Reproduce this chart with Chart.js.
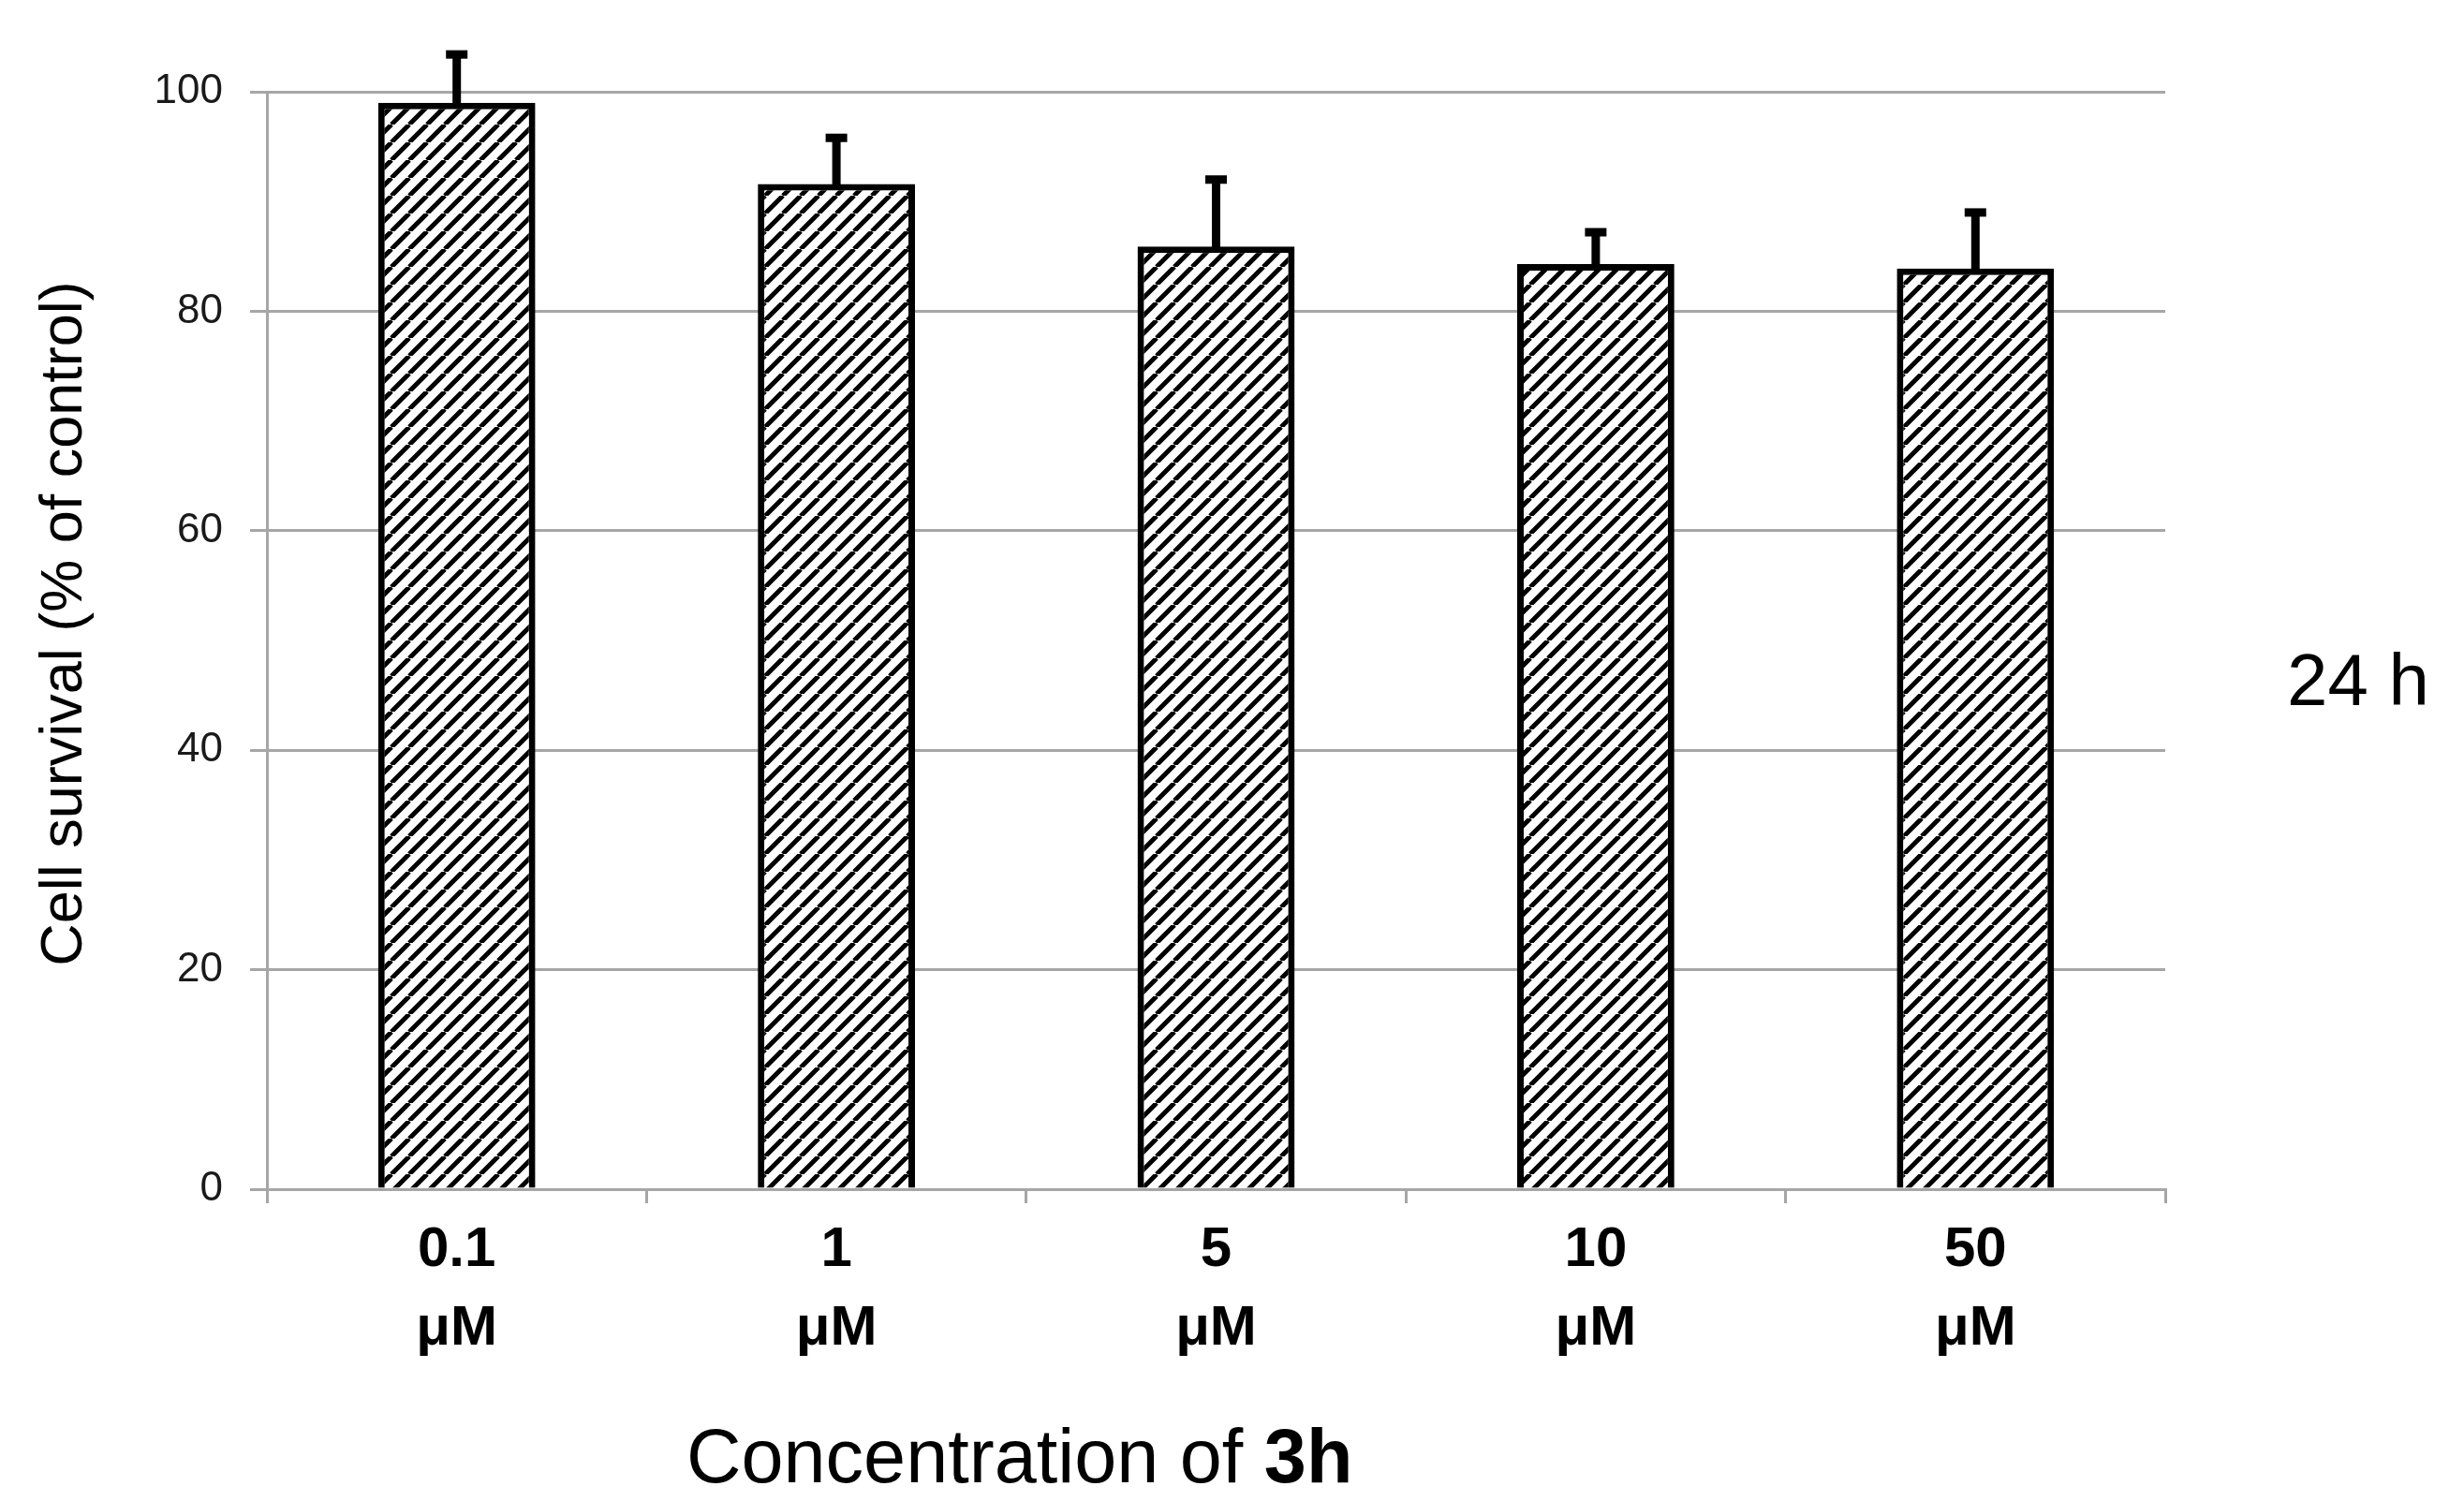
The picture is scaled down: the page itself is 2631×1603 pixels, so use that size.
<!DOCTYPE html>
<html>
<head>
<meta charset="utf-8">
<script src="https://cdn.jsdelivr.net/npm/chart.js@4.4.1/dist/chart.umd.min.js"></script>
<style>
  body { margin: 0; background: #fff; }
  canvas { display: block; }
</style>
</head>
<body>
<canvas id="myChart" width="2631" height="1603"></canvas>
<script>
// values
const concentrations = [['0.1', 'μM'], ['1', 'μM'], ['5', 'μM'], ['10', 'μM'], ['50', 'μM']];
const survival = [99.0, 91.6, 85.9, 84.3, 83.9];
const errors = [4.4, 4.2, 6.1, 2.9, 5.1];
const yTicks = [0, 20, 40, 60, 80, 100];

const FONT = "'Liberation Sans', Arial, sans-serif";
const GRID = '#a6a6a6';

// diagonal hatch fill for the bars
const makeHatch = () => {
  const size = 19;
  const c = document.createElement('canvas');
  c.width = size;
  c.height = size;
  const g = c.getContext('2d');
  g.fillStyle = '#fff';
  g.fillRect(0, 0, size, size);
  g.strokeStyle = '#000';
  g.lineWidth = 5;
  g.beginPath();
  [-size, 0, size].forEach(k => {
    g.moveTo(k, size);
    g.lineTo(k + size, 0);
  });
  g.stroke();
  return g.createPattern(c, 'repeat');
};

const errorBars = {
  id: 'errorBars',
  afterDatasetsDraw(chart) {
    const { ctx, scales: { y } } = chart;
    const meta = chart.getDatasetMeta(0);
    ctx.save();
    ctx.fillStyle = '#000';
    meta.data.forEach((bar, i) => {
      const top = y.getPixelForValue(survival[i] + errors[i]);
      ctx.fillRect(bar.x - 4.5, top, 9, bar.y - top + 4);
      ctx.fillRect(bar.x - 11.5, top - 4.5, 23, 9);
    });
    ctx.restore();
  }
};

const extraText = {
  id: 'extraText',
  afterDraw(chart) {
    const { ctx } = chart;
    ctx.save();
    ctx.fillStyle = '#000';

    // y axis title
    ctx.save();
    ctx.translate(87, 666);
    ctx.rotate(-Math.PI / 2);
    ctx.font = `63px ${FONT}`;
    ctx.textAlign = 'center';
    ctx.textBaseline = 'alphabetic';
    ctx.fillText('Cell survival (% of control)', 0, 0);
    ctx.restore();

    // x axis title, "3h" in bold
    ctx.textAlign = 'left';
    ctx.textBaseline = 'alphabetic';
    ctx.font = `81px ${FONT}`;
    const part1 = 'Concentration of ';
    ctx.fillText(part1, 733, 1583);
    const w = ctx.measureText(part1).width;
    ctx.font = `bold 81px ${FONT}`;
    ctx.fillText('3h', 733 + w, 1583);

    // time label on the right
    ctx.font = `78px ${FONT}`;
    ctx.fillText('24 h', 2442, 753);
    ctx.restore();
  }
};

const ctx = document.getElementById('myChart');
new Chart(ctx, {
  type: 'bar',
  data: {
    labels: concentrations,
    datasets: [{
      label: 'Cell survival',
      data: survival,
      backgroundColor: makeHatch(),
      borderColor: '#000',
      borderWidth: 7,
      barPercentage: 0.414,
      categoryPercentage: 1
    }]
  },
  options: {
    responsive: false,
    animation: false,
    devicePixelRatio: 1,
    layout: { padding: { top: 98, right: 319, left: 0, bottom: 0 } },
    plugins: {
      legend: { display: false },
      tooltip: { enabled: false }
    },
    scales: {
      x: {
        afterFit: scale => { scale.height = 333; },
        grid: {
          offset: true,
          drawOnChartArea: false,
          drawTicks: true,
          tickLength: 15,
          color: GRID,
          lineWidth: 3
        },
        border: { color: GRID, width: 3 },
        ticks: {
          color: '#000',
          padding: 8,
          font: { family: FONT, size: 60, weight: 'bold', lineHeight: 1.4 }
        }
      },
      y: {
        min: 0,
        max: 100,
        afterFit: scale => { scale.width = 285; },
        afterBuildTicks: scale => { scale.ticks = yTicks.map(v => ({ value: v })); },
        grid: {
          color: GRID,
          lineWidth: 3,
          tickLength: 18
        },
        border: { color: GRID, width: 3 },
        ticks: {
          color: '#1a1a1a',
          padding: 29,
          font: { family: FONT, size: 44 }
        }
      }
    }
  },
  plugins: [errorBars, extraText]
});
</script>
</body>
</html>
